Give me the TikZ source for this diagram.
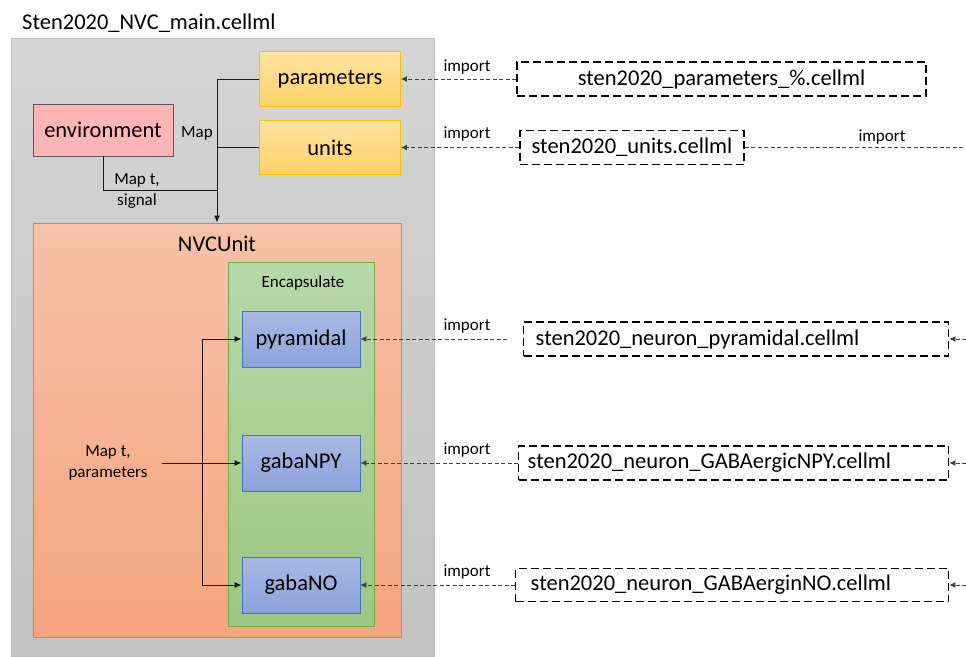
\documentclass[tikz,border=0pt]{standalone}
\usepackage{fontspec}
\setmainfont{Carlito}
\usetikzlibrary{arrows.meta}

\definecolor{grayTop}{HTML}{D5D5D5}
\definecolor{grayBot}{HTML}{C3C3C3}
\definecolor{grayEdge}{HTML}{BDBDBD}
\definecolor{yelTop}{HTML}{FFE3A3}
\definecolor{yelBot}{HTML}{FFD265}
\definecolor{yelEdge}{HTML}{FFC000}
\definecolor{envFill}{HTML}{FFB5B5}
\definecolor{envEdge}{HTML}{595959}
\definecolor{orTop}{HTML}{F8C1A9}
\definecolor{orBot}{HTML}{F5A47E}
\definecolor{orEdge}{HTML}{ED7D31}
\definecolor{grTop}{HTML}{B7D8A9}
\definecolor{grBot}{HTML}{9CC781}
\definecolor{grEdge}{HTML}{70AD47}
\definecolor{blTop}{HTML}{AAB9E3}
\definecolor{blBot}{HTML}{8BA2DA}
\definecolor{blEdge}{HTML}{4472C4}
\definecolor{impLine}{HTML}{404040}

\newcommand{\bigtxt}{\fontsize{22.5}{27}\selectfont}
\newcommand{\smalltxt}{\fontsize{17}{20.5}\selectfont}

\tikzset{
  compbox/.style={draw, line width=0.9pt, inner sep=0pt, font=\bigtxt},
  yellowbox/.style={compbox, draw=yelEdge, top color=yelTop, bottom color=yelBot,
    minimum width=141pt},
  bluebox/.style={compbox, draw=blEdge, top color=blTop, bottom color=blBot,
    minimum width=118pt, minimum height=56pt},
  filebox/.style={draw=black, line width=1.4pt, dash pattern=on 8pt off 4pt,
    font=\bigtxt, minimum height=34pt, inner ysep=0pt},
  lbl/.style={font=\smalltxt, inner sep=0pt, align=center},
  wire/.style={draw=black!90, line width=1pt},
  wirearrow/.style={wire, -{Latex[length=7pt,width=6pt]}},
  imp/.style={draw=impLine, line width=0.9pt, dash pattern=on 4pt off 2.5pt},
  imparrow/.style={imp, -{Latex[length=6pt,width=6pt]}},
}

\begin{document}
\begin{tikzpicture}[x=1pt, y=-1pt]
\useasboundingbox (0,0) rectangle (966,656);
\fill[white] (0,0) rectangle (966,656);

% main model file
\node[anchor=base west, inner sep=0pt, font=\bigtxt] (title) at (22,29) {Sten2020\_NVC\_main.cellml};
\shade[top color=grayTop, bottom color=grayBot, draw=grayEdge, line width=1pt]
  (11,38) rectangle (434,656);

% imported components of the main model
\node[yellowbox, minimum height=55pt] (params) at (330,79) {parameters};
\node[yellowbox, minimum height=54pt] (units) at (330,147.5) {units};
\node[compbox, draw=envEdge, fill=envFill, minimum width=140pt, minimum height=52pt]
  (env) at (103,130) {environment};

% NVC unit with its encapsulated neurons
\node[draw=orEdge, line width=0.9pt, top color=orTop, bottom color=orBot,
  minimum width=368pt, minimum height=414pt, inner sep=0pt] (nvc) at (217,430) {};
\node[font=\bigtxt, inner sep=0pt] (nvclabel) at (217,244) {NVCUnit};
\node[draw=grEdge, line width=0.9pt, top color=grTop, bottom color=grBot,
  minimum width=146pt, minimum height=364pt, inner sep=0pt] (encap) at (301,444) {};
\node[lbl] (encaplabel) at (303,283) {Encapsulate};

\node[bluebox] (pyr) at (301,339) {pyramidal};
\node[bluebox] (npy) at (301,463) {gabaNPY};
\node[bluebox] (gno) at (301,585) {gabaNO};

% mappings inside the main model
\coordinate (envjoin) at (217,190);
\draw[wirearrow] (params.west) -| (nvc.north);
\draw[wire] (units.west) -- (units.west -| nvc.north);
\draw[wire] (env.south) |- (envjoin);
\node[lbl] (maplabel) at (197,133) {Map};
\node[lbl] (mapenv) at (137,191) {Map t,\\signal};

\coordinate (mapsrc) at (162,463);
\coordinate (bus) at (202,463);
\node[lbl] (mapparams) at (108,463) {Map t,\\parameters};
\draw[wirearrow] (mapsrc) -- (npy.west);
\draw[wirearrow] (bus) |- (pyr.west);
\draw[wirearrow] (bus) |- (gno.west);

% external model files
\node[filebox, minimum width=409pt] (fparams) at (721.5,79) {sten2020\_parameters\_\%.cellml};
\node[filebox, minimum width=224pt] (funits) at (632,147.5) {sten2020\_units.cellml};
\node[filebox, anchor=west, inner xsep=12pt, text width=401pt, align=left]
  (fpyr) at (523,339) {sten2020\_neuron\_pyramidal.cellml};
\node[filebox, anchor=west, inner xsep=9pt, text width=412pt, align=left]
  (fnpy) at (518,463) {sten2020\_neuron\_GABAergicNPY.cellml};
\node[filebox, anchor=west, inner xsep=15pt, text width=403pt, align=left,
  minimum height=33pt] (fno) at (515,585) {sten2020\_neuron\_GABAerginNO.cellml};

% import links
\draw[imparrow] (fparams.west) -- (params.east);
\node[lbl] (impparams) at (467,67) {import};
\draw[imparrow] (funits.west) -- (units.east);
\node[lbl] (impunits) at (467,134) {import};

\coordinate (pyrend) at (507,339);
\draw[imparrow] (pyrend) -- (pyr.east);
\node[lbl] (imppyr) at (467,326) {import};
\draw[imparrow] (fnpy.west) -- (npy.east);
\node[lbl] (impnpy) at (467,450) {import};
\draw[imparrow] (fno.west) -- (gno.east);
\node[lbl] (impno) at (467,572) {import};

% links continuing beyond the right edge
\coordinate (edgeunits) at (966,147.5);
\coordinate (edgepyr) at (966,339);
\coordinate (edgenpy) at (966,463);
\coordinate (edgeno) at (966,585);
\draw[imp] (funits.east) -- (edgeunits);
\node[lbl] (impright) at (882,137) {import};
\draw[imparrow] (edgepyr) -- (fpyr.east);
\draw[imparrow] (edgenpy) -- (fnpy.east);
\draw[imparrow] (edgeno) -- (fno.east);
\end{tikzpicture}
\end{document}
